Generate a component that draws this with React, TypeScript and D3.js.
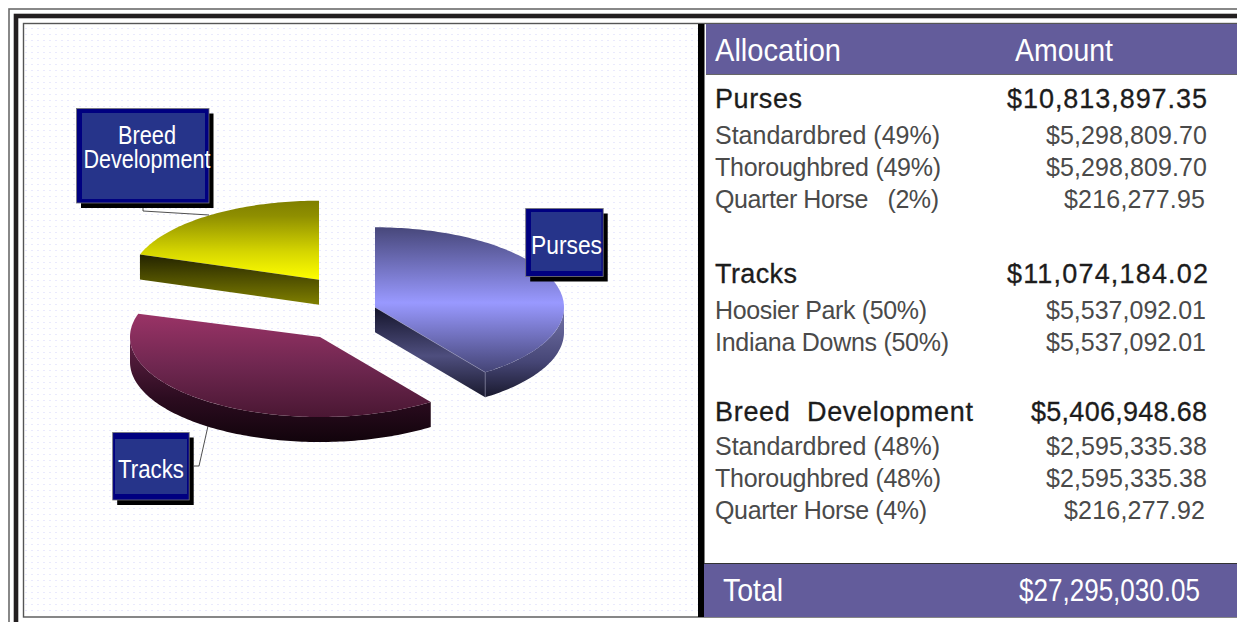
import React from "react";
import * as d3 from "d3";

const W = 1237, H = 622;
const sliceNames = ["Purses", "Tracks", "Breed Development"];
const sliceValues = [10813897.35, 11074184.02, 5406948.68];
const groupNames = ["Purses", "Tracks", "Breed  Development"];
const groupAmounts = ["$10,813,897.35", "$11,074,184.02", "$5,406,948.68"];
const purseRows = ["Standardbred (49%)", "Thoroughbred (49%)", "Quarter Horse   (2%)"];
const purseAmounts = ["$5,298,809.70", "$5,298,809.70", "$216,277.95"];
const trackRows = ["Hoosier Park (50%)", "Indiana Downs (50%)"];
const trackAmounts = ["$5,537,092.01", "$5,537,092.01"];
const breedRows = ["Standardbred (48%)", "Thoroughbred (48%)", "Quarter Horse (4%)"];
const breedAmounts = ["$2,595,335.38", "$2,595,335.38", "$216,277.92"];
const headers = ["Allocation", "Amount"];
const totalRow = ["Total", "$27,295,030.05"];

const DEPTH = 25, ANGLE_NUDGE = 0.03;
const pieLayout = d3.pie<number>().sort(null)(sliceValues);
const centers = [[375, 307.3], [320, 337], [319, 279.7]];
const radii = [[189, 80], [190, 80], [189, 79]];

const sans = "'Liberation Sans', Arial, sans-serif";

const lineGen = d3.line<[number, number]>().x(d => d[0]).y(d => d[1]);
function arcPts(c: number[], r: number[], a0: number, a1: number, dy = 0): [number, number][] {
  const n = Math.max(1, Math.ceil(Math.abs(a1 - a0) / 0.02));
  const sx = d3.scaleLinear().domain([-1, 1]).range([c[0] - r[0], c[0] + r[0]]);
  const sy = d3.scaleLinear().domain([-1, 1]).range([c[1] - r[1] + dy, c[1] + r[1] + dy]);
  return d3.range(n + 1).map(i => {
    const t = a0 + ((a1 - a0) * i) / n;
    return [sx(Math.sin(t)), sy(-Math.cos(t))] as [number, number];
  });
}
const closed = (p: [number, number][]) => (lineGen(p) || "") + "Z";

function Grad({ id, y1, y2, stops }: { id: string; y1: number; y2: number; stops: [number, string][] }) {
  return (
    <linearGradient id={id} gradientUnits="userSpaceOnUse" x1={0} x2={0} y1={y1} y2={y2}>
      {stops.map(([o, c], i) => <stop key={i} offset={o} stopColor={c} />)}
    </linearGradient>
  );
}

function Narrow({ x, y, w, size, children }: any) {
  return (
    <text x={x} y={y} fill="#fff" textLength={w} lengthAdjust="spacingAndGlyphs"
      style={{ fontFamily: sans, fontSize: size }}>{children}</text>
  );
}

function Callout({ x, y, w, h, ix0, iy0, ix1, iy1, lines, tx, ty, widths }: any) {
  return (
    <g>
      <rect x={x + 4.5} y={y + 5} width={w} height={h} fill="#000" />
      <rect x={x} y={y} width={w} height={h} fill="#000080" stroke="#777" strokeWidth={0.8} />
      <rect x={ix0} y={iy0} width={ix1 - ix0} height={iy1 - iy0} fill="#26348a" />
      {lines.map((l: string, i: number) => (
        <Narrow key={i} x={tx - widths[i] / 2} y={ty + i * 24} w={widths[i]} size={25}>{l}</Narrow>
      ))}
    </g>
  );
}

function Row({ y, left, right, lw, rw, rightX = 1207, strong = false }: any) {
  const st = { fontFamily: sans, fontSize: strong ? 27 : 25, whiteSpace: "pre" } as React.CSSProperties;
  const fill = strong ? "#1c1c1c" : "#4a4a4a";
  const sw = strong ? 0.3 : 0;
  return (
    <g fill={fill} stroke={fill} strokeWidth={sw}>
      <text x={715} y={y} style={st} xmlSpace="preserve" textLength={lw} lengthAdjust="spacing">{left}</text>
      <text x={rightX - rw} y={y} style={st} textLength={rw} lengthAdjust="spacing">{right}</text>
    </g>
  );
}

export default function App() {
  const [pu0, tr0, br] = pieLayout;
  const pu = { ...pu0, endAngle: pu0.endAngle + ANGLE_NUDGE };
  const tr = { ...tr0, startAngle: tr0.startAngle + ANGLE_NUDGE, endAngle: tr0.endAngle - ANGLE_NUDGE };
  const [cPu, cTr, cBr] = centers;
  const [rPu, rTr, rBr] = radii;

  const puEnd = arcPts(cPu, rPu, pu.endAngle, pu.endAngle)[0];
  const brStart = arcPts(cBr, rBr, br.startAngle, br.startAngle)[0];

  const top = (c: number[], r: number[], d: any) =>
    closed([[c[0], c[1]] as [number, number], ...arcPts(c, r, d.startAngle, d.endAngle)]);
  const rim = (c: number[], r: number[], a0: number, a1: number) =>
    closed([...arcPts(c, r, a0, a1), ...arcPts(c, r, a1, a0, DEPTH)]);
  const cut = (a: number[], b: number[]) =>
    closed([[a[0], a[1]], [b[0], b[1]], [b[0], b[1] + DEPTH], [a[0], a[1] + DEPTH]] as [number, number][]);

  return (
    <svg width={W} height={H} style={{ position: "absolute", left: 0, top: 0, display: "block", background: "#fff" }}>
      <defs>
        <pattern id="dots" x={25} y={28} width={6} height={6} patternUnits="userSpaceOnUse">
          <rect x={0} y={0} width={2} height={1} fill="#eaeafd" />
        </pattern>
        <Grad id="gBrTop" y1={200} y2={280} stops={[[0, "#7f7f00"], [0.2, "#8f8f00"], [0.65, "#d6d600"], [1, "#ffff00"]]} />
        <Grad id="gBrCut" y1={255} y2={305} stops={[[0, "#242400"], [1, "#808000"]]} />
        <Grad id="gTrTop" y1={315} y2={417} stops={[[0, "#993366"], [0.5, "#6f2750"], [1, "#4a1733"]]} />
        <Grad id="gTrRim" y1={345} y2={441} stops={[[0, "#5c1f42"], [0.55, "#2c0c20"], [1, "#12040c"]]} />
        <Grad id="gPuTop" y1={227} y2={370} stops={[[0, "#47477a"], [0.53, "#9999ff"], [1, "#47477a"]]} />
        <Grad id="gPuCut" y1={307} y2={396} stops={[[0, "#14142a"], [0.55, "#4e4e7e"], [1, "#1b1b30"]]} />
        <Grad id="gPuRim" y1={320} y2={396} stops={[[0, "#6a6a9e"], [0.55, "#464676"], [1, "#1b1b30"]]} />
      </defs>

      {/* frame */}
      <rect x={9} y={9} width={W + 20} height={H + 20} fill="none" stroke="#6b6b6b" strokeWidth={1.6} />
      <rect x={16} y={16} width={W + 20} height={H + 20} fill="none" stroke="#231f20" strokeWidth={4.6} />
      <rect x={23.5} y={23.5} width={W} height={593.5} fill="#fff" stroke="#555" strokeWidth={1.4} />
      <rect x={24} y={24} width={674} height={592} fill="url(#dots)" />

      {/* pie */}
      <path d={top(cBr, rBr, br)} fill="url(#gBrTop)" />
      <path d={cut(brStart, cBr)} fill="url(#gBrCut)" />

      <path d={rim(cTr, rTr, tr.startAngle, Math.PI * 1.5)} fill="url(#gTrRim)" />
      <path d={top(cTr, rTr, tr)} fill="url(#gTrTop)" />

      <path d={rim(cPu, rPu, Math.PI / 2, pu.endAngle)} fill="url(#gPuRim)" />
      <path d={cut(cPu, puEnd)} fill="url(#gPuCut)" />
      <path d={top(cPu, rPu, pu)} fill="url(#gPuTop)" />
      <line x1={cPu[0]} x2={puEnd[0]} y1={cPu[1]} y2={puEnd[1]} stroke="#9a9ab8" strokeWidth={0.5} />
      <line x1={puEnd[0]} x2={puEnd[0]} y1={puEnd[1]} y2={puEnd[1] + DEPTH} stroke="#8a8aa8" strokeWidth={0.6} />

      {/* leaders */}
      <polyline points="143,208 143,211 209,215" fill="none" stroke="#222" strokeWidth={0.8} />
      <polyline points="194,466 199,466 208,426" fill="none" stroke="#222" strokeWidth={0.8} />

      <Callout x={76.5} y={108.5} w={132.5} h={94.5} ix0={82} iy0={113} ix1={205} iy1={199}
        lines={sliceNames[2].split(" ")} widths={[58, 127]} tx={147} ty={144} />
      <Callout x={525.7} y={208.5} w={77.5} h={68} ix0={531} iy0={212} ix1={601.5} iy1={271}
        lines={[sliceNames[0]]} widths={[71]} tx={566.5} ty={254} />
      <Callout x={112.7} y={432.5} w={76.5} h={67.5} ix0={115} iy0={439} ix1={187} iy1={494}
        lines={[sliceNames[1]]} widths={[66]} tx={151} ty={478} />

      {/* table */}
      <rect x={698} y={24} width={6.5} height={593} fill="#000" />
      <rect x={706} y={24} width={W - 706} height={50} fill="#635c9b" />
      <line x1={706} x2={W} y1={74.5} y2={74.5} stroke="#666" strokeWidth={1} />
      <Narrow x={715} y={61} w={126} size={32}>{headers[0]}</Narrow>
      <Narrow x={1015} y={61} w={98} size={32}>{headers[1]}</Narrow>

      <Row y={108} left={groupNames[0]} right={groupAmounts[0]} lw={87} rw={200} strong />
      {purseRows.map((r, i) => (
        <Row key={r} y={144 + i * 32} left={r} right={purseAmounts[i]} lw={[225, 226, 224][i]}
          rw={i === 2 ? 141 : 161} rightX={i === 2 ? 1205 : 1207} />
      ))}
      <Row y={283} left={groupNames[1]} right={groupAmounts[1]} lw={82} rw={201} rightX={1208} strong />
      {trackRows.map((r, i) => (
        <Row key={r} y={319 + i * 32} left={r} right={trackAmounts[i]} lw={[212, 234][i]} rw={160} rightX={1206} />
      ))}
      <Row y={421} left={groupNames[2]} right={groupAmounts[2]} lw={258} rw={176} strong />
      {breedRows.map((r, i) => (
        <Row key={r} y={455 + i * 32} left={r} right={breedAmounts[i]} lw={[225, 226, 212][i]}
          rw={i === 2 ? 141 : 161} rightX={i === 2 ? 1205 : 1207} />
      ))}

      <rect x={704} y={564} width={W - 704} height={53} fill="#635c9b" />
      <line x1={704} x2={W} y1={563.5} y2={563.5} stroke="#333" strokeWidth={1} />
      <Narrow x={723} y={601} w={60} size={32}>{totalRow[0]}</Narrow>
      <Narrow x={1019} y={601} w={181} size={32}>{totalRow[1]}</Narrow>
    </svg>
  );
}
